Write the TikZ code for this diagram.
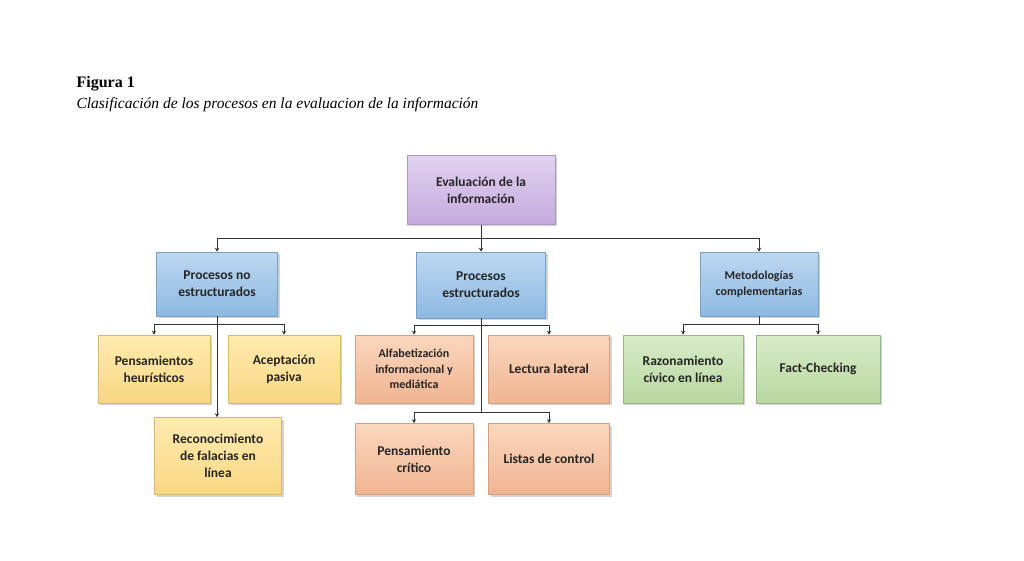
\documentclass[tikz,border=0pt]{standalone}
\usepackage{fontspec}
\setmainfont{Liberation Serif}
\newfontfamily\carlfont{Carlito}
\usetikzlibrary{shadows,arrows.meta}
\definecolor{purT}{RGB}{225,210,240}\definecolor{purB}{RGB}{195,170,220}\definecolor{purD}{RGB}{170,150,200}
\definecolor{bluT}{RGB}{190,215,240}\definecolor{bluB}{RGB}{140,185,225}\definecolor{bluD}{RGB}{120,160,200}
\definecolor{yelT}{RGB}{255,235,175}\definecolor{yelB}{RGB}{248,215,130}\definecolor{yelD}{RGB}{215,185,110}
\definecolor{oraT}{RGB}{250,215,190}\definecolor{oraB}{RGB}{240,180,145}\definecolor{oraD}{RGB}{210,160,130}
\definecolor{grnT}{RGB}{215,235,200}\definecolor{grnB}{RGB}{185,215,160}\definecolor{grnD}{RGB}{150,185,130}
\begin{document}
\begin{tikzpicture}[x=1pt,y=-1pt,
 bx/.style={draw=#1D,line width=0.5pt,top color=#1T,bottom color=#1B,minimum width=118pt,minimum height=68pt,align=center,
   font=\carlfont\bfseries\fontsize{13.5}{17}\selectfont,text=black!85,drop shadow={opacity=0.35,shadow xshift=2pt,shadow yshift=-2pt}},
 pur/.style={bx=pur},
 blu/.style={bx=blu},
 yel/.style={bx=yel},
 ora/.style={bx=ora},
 grn/.style={bx=grn},
 ln/.style={line width=0.9pt,draw=black!80},
 ar/.style={ln,-{Stealth[length=4pt,width=4pt]}}]
\useasboundingbox (0,0) rectangle (1024,561);
\node[anchor=west,font=\bfseries\fontsize{16}{18}\selectfont] (t1) at (73,84) {Figura 1};
\node[anchor=west,font=\itshape\fontsize{15.5}{18}\selectfont] (t2) at (73,105) {Clasificación de los procesos en la evaluacion de la información};
\node[pur,minimum width=148pt,minimum height=69pt] (ev) at (481,190) {Evaluación de la\\información};
\node[blu,minimum width=121pt,minimum height=64pt] (pn) at (217,284) {Procesos no\\estructurados};
\node[blu,minimum width=129pt,minimum height=66pt] (pe) at (481,285) {Procesos\\estructurados};
\node[blu,minimum width=118pt,minimum height=64pt,font=\carlfont\bfseries\fontsize{12}{16}\selectfont] (me) at (759,284) {Metodologías\\complementarias};
\node[yel,minimum width=112pt] (ph) at (154,369) {Pensamientos\\heurísticos};
\node[yel,minimum width=112pt] (ap) at (284,369) {Aceptación\\pasiva};
\node[yel,minimum width=127pt,minimum height=77pt] (rf) at (218,456) {Reconocimiento\\de falacias en\\línea};
\node[ora,font=\carlfont\bfseries\fontsize{12}{15.5}\selectfont] (al) at (414,369) {Alfabetización\\informacional y\\mediática};
\node[ora,minimum width=121pt] (ll) at (549,369) {Lectura lateral};
\node[ora,minimum height=71pt] (pc) at (414,459) {Pensamiento\\crítico};
\node[ora,minimum width=121pt,minimum height=71pt] (lc) at (549,459) {Listas de control};
\node[grn,minimum width=120pt] (rc) at (683,369) {Razonamiento\\cívico en línea};
\node[grn,minimum width=124pt] (fc) at (818,369) {Fact-Checking};
% connectors
\coordinate (b1) at (481,238);
\draw[ln] (ev.south) -- (b1);
\draw[ar] (b1) -| (pn.north);
\draw[ar] (b1) -- (pe.north);
\draw[ar] (b1) -| (me.north);
\coordinate (b2) at (217,324);
\draw[ar] (pn.south) -- (rf.north-|pn.south);
\draw[ar] (b2) -| (ph.north);
\draw[ar] (b2) -| (ap.north);
\coordinate (b3) at (481,325);
\coordinate (b4) at (481,412);
\draw[ln] (pe.south) -- (b4);
\draw[ar] (b3) -| (al.north);
\draw[ar] (b3) -| (ll.north);
\draw[ar] (b4) -| (pc.north);
\draw[ar] (b4) -| (lc.north);
\coordinate (b5) at (759,324);
\draw[ln] (me.south) -- (b5);
\draw[ar] (b5) -| (rc.north);
\draw[ar] (b5) -| (fc.north);
\end{tikzpicture}
\end{document}
